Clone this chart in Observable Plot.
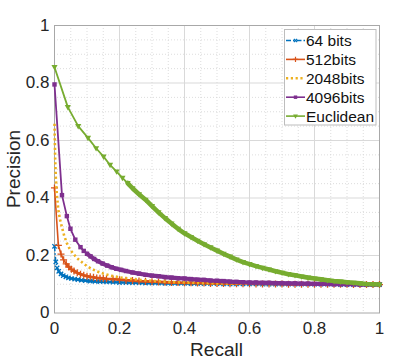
<!DOCTYPE html>
<html><head><meta charset="utf-8">
<script src="https://cdn.jsdelivr.net/npm/d3@7"></script>
<script src="https://cdn.jsdelivr.net/npm/@observablehq/plot@0.6"></script>
<style>body{margin:0;background:#fff}svg{display:block}</style>
</head><body><div id="chart"></div>
<script>
const seriesNames = ["64 bits", "512bits", "2048bits", "4096bits", "Euclidean"];
const seriesColors = ["#0072BD", "#D95319", "#EDB120", "#7E2F8E", "#77AC30"];
const xTicks = [0, 0.2, 0.4, 0.6, 0.8, 1];
const yTicks = [0, 0.2, 0.4, 0.6, 0.8, 1];
const minorTicks = [0.05, 0.1, 0.15, 0.25, 0.3, 0.35, 0.45, 0.5, 0.55, 0.65, 0.7, 0.75, 0.85, 0.9, 0.95];
const majorGrid = [0.2, 0.4, 0.6, 0.8];

// [recall, precision]
const bits64 = [[0,0.232],[0.004,0.178],[0.008,0.157],[0.013,0.145],[0.02,0.136],[0.027,0.13],[0.035,0.126],[0.043,0.122],[0.052,0.12],[0.062,0.118],[0.072,0.116],[0.083,0.114],[0.095,0.113],[0.11,0.111],[0.125,0.11],[0.14,0.109],[0.16,0.108],[0.18,0.107],
[0.2,0.106],[0.22,0.106],[0.24,0.105],[0.26,0.105],[0.28,0.104],[0.3,0.104],[0.32,0.104],[0.34,0.103],[0.36,0.103],[0.38,0.103],[0.4,0.103],[0.42,0.102],[0.44,0.102],[0.46,0.102],[0.48,0.102],[0.5,0.102],[0.52,0.101],[0.54,0.101],[0.56,0.101],[0.58,0.101],[0.6,0.101],[0.62,0.101],[0.64,0.1],[0.66,0.1],[0.68,0.1],[0.7,0.1],[0.72,0.1],[0.74,0.1],[0.76,0.1],[0.78,0.1],[0.8,0.1],[0.82,0.1],[0.84,0.1],[0.86,0.1],[0.88,0.099],[0.9,0.099],[0.92,0.099],[0.94,0.099],[0.96,0.099],[0.98,0.099],[1,0.099]];

const bits512 = [[0,0.435],[0.012,0.235],[0.02,0.205],[0.028,0.185],[0.036,0.171],[0.044,0.16],[0.052,0.152],[0.06,0.146],[0.07,0.14],[0.08,0.135],[0.09,0.131],[0.1,0.128],[0.11,0.126],[0.12,0.124],[0.13,0.122],[0.14,0.121],[0.15,0.12],[0.16,0.119],[0.18,0.118],[0.2,0.116],[0.22,0.114],[0.24,0.113],[0.26,0.111],[0.28,0.11],[0.3,0.109],[0.32,0.108],[0.34,0.107],[0.36,0.106],[0.38,0.106],[0.4,0.105],[0.42,0.105],[0.44,0.104],[0.46,0.104],[0.48,0.103],[0.5,0.103],[0.52,0.103],[0.54,0.102],[0.56,0.102],[0.58,0.102],[0.6,0.102],[0.62,0.101],[0.64,0.101],[0.66,0.101],[0.68,0.101],[0.7,0.101],[0.72,0.1],[0.74,0.1],[0.76,0.1],[0.78,0.1],[0.8,0.1],[0.82,0.1],[0.84,0.1],[0.86,0.1],[0.88,0.1],[0.9,0.1],[0.92,0.099],[0.94,0.099],[0.96,0.099],[0.98,0.099],[1,0.099]];

const bits2048 = [[0,0.658],[0.002,0.54],[0.004,0.472],[0.007,0.415],[0.012,0.357],[0.017,0.325],[0.023,0.298],[0.03,0.268],[0.038,0.243],[0.047,0.222],[0.058,0.206],[0.07,0.19],[0.084,0.177],[0.1,0.163],[0.115,0.153],[0.13,0.145],[0.15,0.137],[0.172,0.13],[0.2,0.124],[0.23,0.119],[0.265,0.115],[0.3,0.112],[0.35,0.108],[0.4,0.106],[0.45,0.104],[0.5,0.103],[0.6,0.102],[0.7,0.101],[0.8,0.1],[0.9,0.1],[1,0.099]];

const bits4096 = [[0,0.795],[0.023,0.41],[0.038,0.337],[0.049,0.293],[0.064,0.255],[0.08,0.229],[0.09,0.216],[0.1,0.206],[0.111,0.197],[0.122,0.188],[0.134,0.18],[0.148,0.172],[0.162,0.165],[0.176,0.159],[0.19,0.154],[0.205,0.15],[0.22,0.146],[0.24,0.141],[0.26,0.137],[0.28,0.133],[0.3,0.13],[0.32,0.128],[0.34,0.125],[0.36,0.123],[0.38,0.121],[0.4,0.12],[0.42,0.118],[0.44,0.116],[0.46,0.115],[0.48,0.113],[0.5,0.112],[0.52,0.111],[0.54,0.109],[0.56,0.108],[0.58,0.107],[0.6,0.106],[0.62,0.106],[0.64,0.105],[0.66,0.105],[0.68,0.104],[0.7,0.104],[0.72,0.103],[0.74,0.103],[0.76,0.102],[0.78,0.102],[0.8,0.101],[0.82,0.101],[0.84,0.101],[0.86,0.1],[0.88,0.1],[0.9,0.1],[0.92,0.1],[0.94,0.099],[0.96,0.099],[0.98,0.099],[1,0.099]];

const euclidean = [[0,0.855],[0.041,0.716],[0.073,0.65],[0.103,0.609],[0.128,0.573],[0.151,0.544],[0.171,0.515],[0.191,0.492],[0.209,0.47],[0.225,0.452],[0.24,0.434],[0.26,0.413],[0.28,0.394],[0.3,0.372],[0.32,0.35],[0.34,0.33],[0.36,0.311],[0.38,0.293],[0.4,0.277],[0.42,0.264],[0.44,0.251],[0.46,0.239],[0.48,0.228],[0.5,0.217],[0.52,0.206],[0.54,0.196],[0.56,0.186],[0.58,0.177],[0.6,0.17],[0.62,0.163],[0.64,0.157],[0.66,0.151],[0.68,0.145],[0.7,0.14],[0.72,0.135],[0.74,0.131],[0.76,0.127],[0.78,0.123],[0.8,0.12],[0.82,0.117],[0.84,0.114],[0.86,0.111],[0.88,0.109],[0.9,0.107],[0.92,0.105],[0.94,0.103],[0.96,0.101],[0.98,0.1],[1,0.099]];

const seriesData = [bits64, bits512, bits2048, bits4096, euclidean];

const triDown = {draw(ctx, size) {
  const s = Math.sqrt(size);
  ctx.moveTo(-0.62 * s, -0.42 * s);
  ctx.lineTo(0.62 * s, -0.42 * s);
  ctx.lineTo(0, 0.66 * s);
  ctx.closePath();
}};

// visual style per series; bandFrom = recall where MATLAB markers overlap into a solid band
const styles = [
  {dash: "5,2,1.5,2", width: 1.5, symbol: "times", r: 2.1, filled: false, bandFrom: 0.012, band: 2.6},
  {dash: null, width: 1.6, symbol: "plus", r: 2.4, filled: false, bandFrom: 0.03, band: 2.8},
  {dash: "2.2,2.6", width: 2.6, symbol: null},
  {dash: null, width: 1.8, symbol: "square", r: 2.5, filled: true, bandFrom: 0.1, band: 4.2},
  {dash: null, width: 1.8, symbol: triDown, r: 2.8, filled: true, bandFrom: 0.22, band: 4.6}
];

const font = "'Liberation Sans', Arial, Helvetica, sans-serif";
const marks = [
  Plot.ruleX(minorTicks, {stroke: "#d4d4d4", strokeDasharray: "1,2", strokeWidth: 0.8}),
  Plot.ruleY(minorTicks, {stroke: "#d4d4d4", strokeDasharray: "1,2", strokeWidth: 0.8}),
  Plot.ruleX(majorGrid, {stroke: "#d9d9d9", strokeWidth: 1}),
  Plot.ruleY(majorGrid, {stroke: "#d9d9d9", strokeWidth: 1}),
  Plot.frame({stroke: "#a8a8a8"}),
  Plot.axisX(xTicks, {tickSize: 0, tickPadding: 9, fontSize: 17, label: null, tickFormat: d => String(d), fill: "#262626"}),
  Plot.axisY(yTicks, {tickSize: 0, tickPadding: 5, fontSize: 17, label: null, tickFormat: d => String(d), fill: "#262626"})
];

seriesData.forEach((data, i) => {
  const st = styles[i];
  const c = seriesColors[i];
  if (st.dash) {
    marks.push(Plot.line(data, {x: d => d[0], y: d => d[1], stroke: c, strokeWidth: st.width, strokeDasharray: st.dash, strokeLinecap: "butt"}));
  } else {
    marks.push(Plot.line(data, {x: d => d[0], y: d => d[1], stroke: c, strokeWidth: st.width, strokeLinejoin: "round"}));
  }
  if (st.symbol) {
    marks.push(Plot.line(data.filter(d => d[0] >= st.bandFrom), {x: d => d[0], y: d => d[1], stroke: c, strokeWidth: st.band, strokeLinejoin: "round"}));
    if (st.filled) marks.push(Plot.dot(data, {x: d => d[0], y: d => d[1], symbol: st.symbol, r: st.r, fill: c, stroke: "none"}));
    else marks.push(Plot.dot(data, {x: d => d[0], y: d => d[1], symbol: st.symbol, r: st.r, stroke: c, strokeWidth: 1.3, fill: "none"}));
  }
});

const svg = Plot.plot({
  width: 419, height: 361,
  marginLeft: 54, marginRight: 40, marginTop: 25, marginBottom: 48.5,
  style: {fontFamily: font, background: "#fff"},
  x: {domain: [0, 1]},
  y: {domain: [0, 1]},
  marks
});

const s = d3.select(svg);
s.append("text").attr("x", 216.5).attr("y", 356).attr("text-anchor", "middle")
  .attr("font-size", 19).attr("font-family", font).attr("fill", "#262626").text("Recall");
s.append("text").attr("transform", "translate(20,169) rotate(-90)").attr("text-anchor", "middle")
  .attr("font-size", 19).attr("font-family", font).attr("fill", "#262626").text("Precision");

// legend
const lg = s.append("g").attr("text-anchor", "start");
lg.append("rect").attr("x", 284.5).attr("y", 29.5).attr("width", 91.5).attr("height", 95.5)
  .attr("fill", "#fff").attr("stroke", "#bdbdbd").attr("stroke-width", 1);
seriesNames.forEach((name, i) => {
  const st = styles[i];
  const cy = 40.5 + i * 18.9;
  const c = seriesColors[i];
  const ln = lg.append("line").attr("x1", 286).attr("x2", 305).attr("y1", cy).attr("y2", cy)
    .attr("stroke", c).attr("stroke-width", st.symbol ? 1.6 : 2.4);
  if (st.dash) ln.attr("stroke-dasharray", st.dash);
  if (st.symbol) {
    const symObj = typeof st.symbol === "string"
      ? {times: d3.symbolTimes, plus: d3.symbolPlus, square: d3.symbolSquare}[st.symbol]
      : st.symbol;
    const path = d3.symbol(symObj, Math.PI * st.r * st.r * 0.6)();
    const p = lg.append("path").attr("d", path).attr("transform", `translate(295.5,${cy})`);
    if (st.filled) p.attr("fill", c); else p.attr("fill", "none").attr("stroke", c).attr("stroke-width", 1.2);
  }
  lg.append("text").attr("x", 306).attr("y", cy).attr("dy", "0.36em").attr("text-anchor", "start")
    .attr("font-size", 15.5).attr("font-family", font).attr("fill", "#111").text(name);
});

document.getElementById("chart").appendChild(svg);
</script>
</body></html>
